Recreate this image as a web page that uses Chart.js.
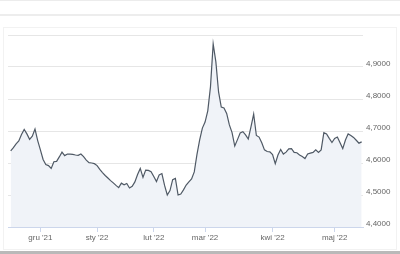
<!DOCTYPE html>
<html>
<head>
<meta charset="utf-8">
<script src="https://cdn.jsdelivr.net/npm/chart.js@4"></script>
<style>
    html, body { margin: 0; padding: 0; background: #fff; }
    body { width: 400px; height: 254px; position: relative; overflow: hidden; }
    .line-top { position: absolute; left: 0; top: 0; width: 400px; height: 1px; background: #ececec; }
    .band { position: absolute; left: 0; top: 14px; width: 400px; height: 2px; background: #ededed; }
    .card { position: absolute; left: 3px; top: 27px; width: 394px; height: 223px; border: 1px solid #f2f2f2; box-sizing: border-box; }
    .bottom-bar { position: absolute; left: 0; top: 251px; width: 400px; height: 3px; background: #b9b9b9; }
    #wrap { position: absolute; left: 0; top: 0; width: 400px; height: 254px; }
</style>
</head>
<body>
<div class="line-top"></div>
<div class="band"></div>
<div class="card"></div>
<div class="bottom-bar"></div>
<div id="wrap"><canvas id="chart"></canvas></div>
<script>
// kurs dzienny (sesje), od połowy listopada 2021 do połowy maja 2022
const rates = [
    4.638, 4.648, 4.660, 4.669, 4.689, 4.705, 4.691, 4.674, 4.684, 4.706,
    4.670, 4.641, 4.611, 4.595, 4.592, 4.583, 4.604, 4.605, 4.619, 4.634,
    4.623, 4.628, 4.628, 4.627, 4.625, 4.624, 4.628, 4.620, 4.609, 4.601,
    4.600, 4.598, 4.592, 4.580, 4.570, 4.561, 4.553, 4.545, 4.538, 4.530,
    4.523, 4.537, 4.532, 4.536, 4.522, 4.527, 4.541, 4.564, 4.583, 4.555,
    4.578, 4.577, 4.573, 4.558, 4.542, 4.563, 4.567, 4.530, 4.500, 4.514,
    4.548, 4.552, 4.500, 4.503, 4.516, 4.531, 4.541, 4.550, 4.572, 4.627,
    4.672, 4.709, 4.728, 4.763, 4.838, 4.972, 4.916, 4.822, 4.775, 4.772,
    4.755, 4.719, 4.695, 4.653, 4.673, 4.694, 4.698, 4.688, 4.675, 4.713,
    4.753, 4.686, 4.681, 4.663, 4.641, 4.636, 4.635, 4.626, 4.598, 4.625,
    4.642, 4.628, 4.634, 4.644, 4.645, 4.633, 4.632, 4.625, 4.620, 4.614,
    4.628, 4.631, 4.633, 4.641, 4.633, 4.641, 4.695, 4.691, 4.677, 4.664,
    4.677, 4.681, 4.663, 4.645, 4.672, 4.691, 4.686, 4.680, 4.671, 4.662,
    4.666
];

// indeks sesji, od której zaczyna się miesiąc
const monthStarts = [11, 32, 53, 72, 97, 120];
const monthLabels = ["gru '21", "sty '22", "lut '22", "mar '22", "kwi '22", "maj '22"];

const yTicks = [4.4, 4.5, 4.6, 4.7, 4.8, 4.9, 5.0];

const points = rates.map((v, i) => ({ x: i, y: v }));

new Chart(document.getElementById('chart'), {
    type: 'line',
    data: {
        datasets: [{
            data: points,
            borderColor: '#4f5965',
            borderWidth: 1.2,
            backgroundColor: '#f0f3f8',
            fill: 'start',
            pointRadius: 0,
            tension: 0
        }]
    },
    options: {
        responsive: true,
        maintainAspectRatio: false,
        animation: false,
        layout: { padding: { left: 8, top: 35, right: 0, bottom: 0 } },
        plugins: {
            legend: { display: false },
            tooltip: { enabled: false }
        },
        scales: {
            x: {
                type: 'linear',
                min: -1,
                max: 130.5,
                afterBuildTicks: (scale) => {
                    scale.ticks = monthStarts.map(v => ({ value: v }));
                },
                afterFit: (scale) => { scale.height = 27; },
                ticks: {
                    autoSkip: false,
                    maxRotation: 0,
                    padding: 1,
                    color: '#666',
                    font: { family: 'Liberation Sans', size: 8 },
                    callback: (value) => {
                        const k = monthStarts.indexOf(value);
                        return k >= 0 ? monthLabels[k] : '';
                    }
                },
                grid: {
                    drawOnChartArea: false,
                    drawTicks: true,
                    tickLength: 5,
                    color: '#ccd6eb'
                },
                border: { display: true, color: '#ccd6eb' }
            },
            y: {
                position: 'right',
                min: 4.4,
                max: 5.0,
                afterBuildTicks: (scale) => {
                    scale.ticks = yTicks.map(v => ({ value: v }));
                },
                afterFit: (scale) => { scale.width = 37; },
                ticks: {
                    padding: 3,
                    labelOffset: -3,
                    color: '#666',
                    font: { family: 'Liberation Sans', size: 8 },
                    callback: (value) => value >= 4.95 ? '' : value.toFixed(4).replace('.', ',')
                },
                grid: {
                    drawTicks: false,
                    color: '#e6e6e6'
                },
                border: { display: false }
            }
        }
    }
});
</script>
</body>
</html>
